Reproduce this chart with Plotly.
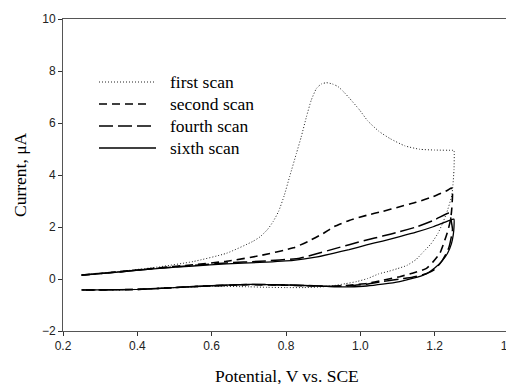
import plotly.graph_objects as go

# ---- data ----
scan1_fwd_E = [0.25, 0.30, 0.37, 0.46, 0.55, 0.64, 0.71, 0.73, 0.75, 0.765, 0.78, 0.795, 0.81, 0.828,
               0.841, 0.855, 0.868, 0.882, 0.895, 0.909, 0.925, 0.94, 0.955, 0.971, 0.998, 1.02, 1.05,
               1.08, 1.12, 1.16, 1.20, 1.25]
scan1_fwd_I = [0.15, 0.22, 0.32, 0.47, 0.67, 0.99, 1.44, 1.62, 1.90, 2.20, 2.60, 3.20, 3.95, 4.83,
               5.47, 6.24, 6.88, 7.33, 7.50, 7.55, 7.50, 7.40, 7.20, 6.95, 6.50, 6.08, 5.68,
               5.40, 5.12, 4.99, 4.96, 4.95]
scan1_rev_E = [1.252, 1.252, 1.249, 1.246, 1.232, 1.22, 1.209, 1.19, 1.17, 1.15, 1.125, 1.10, 1.075,
               1.05, 1.02, 0.99, 0.96, 0.93, 0.90, 0.85, 0.80, 0.75, 0.70, 0.60, 0.50, 0.40, 0.30, 0.25]
scan1_rev_I = [4.95, 4.2, 3.6, 3.2, 2.53, 2.1, 1.76, 1.35, 1.05, 0.75, 0.52, 0.40, 0.29,
               0.2, 0.02, -0.1, -0.18, -0.25, -0.3, -0.33, -0.33, -0.32, -0.3, -0.28, -0.33, -0.4, -0.42, -0.42]

scan2_fwd_E = [0.25, 0.35, 0.46, 0.55, 0.64, 0.73, 0.82, 0.86, 0.90, 0.93, 0.97, 1.017, 1.06, 1.106,
               1.15, 1.196, 1.236, 1.245]
scan2_fwd_I = [0.15, 0.28, 0.43, 0.55, 0.68, 0.90, 1.20, 1.45, 1.75, 2.02, 2.25, 2.45, 2.60, 2.78,
               2.95, 3.17, 3.42, 3.50]
scan2_rev_E = [1.248, 1.246, 1.243, 1.236, 1.225, 1.214, 1.195, 1.178, 1.14, 1.106, 1.06, 1.017, 0.97,
               0.93, 0.90, 0.85, 0.80, 0.70, 0.60, 0.50, 0.40, 0.30, 0.25]
scan2_rev_I = [3.3, 2.7, 2.3, 1.88, 1.4, 0.99, 0.65, 0.41, 0.22, 0.09, -0.05, -0.17, -0.24,
               -0.28, -0.28, -0.26, -0.24, -0.22, -0.26, -0.33, -0.40, -0.42, -0.42]

scan4_fwd_E = [0.25, 0.35, 0.46, 0.55, 0.64, 0.73, 0.837, 0.88, 0.927, 0.97, 1.017, 1.06, 1.106, 1.15,
               1.196, 1.236]
scan4_fwd_I = [0.15, 0.27, 0.42, 0.52, 0.62, 0.68, 0.80, 0.96, 1.15, 1.32, 1.50, 1.65, 1.82, 2.0,
               2.25, 2.53]
scan4_rev_E = [1.24, 1.245, 1.248, 1.245, 1.238, 1.228, 1.215, 1.196, 1.17, 1.14, 1.106, 1.06, 1.017,
               0.97, 0.93, 0.90, 0.85, 0.80, 0.70, 0.60, 0.50, 0.40, 0.30, 0.25]
scan4_rev_I = [2.53, 2.2, 1.9, 1.63, 1.2, 0.9, 0.6, 0.33, 0.17, 0.07, 0.0, -0.1, -0.2,
               -0.26, -0.28, -0.27, -0.25, -0.23, -0.21, -0.26, -0.33, -0.40, -0.42, -0.42]

scan6_fwd_E = [0.25, 0.35, 0.46, 0.55, 0.64, 0.73, 0.82, 0.88, 0.927, 0.97, 1.017, 1.06, 1.106, 1.15,
               1.196, 1.23, 1.25]
scan6_fwd_I = [0.15, 0.27, 0.41, 0.50, 0.58, 0.64, 0.72, 0.84, 0.99, 1.13, 1.31, 1.46, 1.63, 1.80,
               2.01, 2.2, 2.3]
scan6_rev_E = [1.252, 1.252, 1.25, 1.245, 1.235, 1.22, 1.2, 1.178, 1.14, 1.106, 1.06, 1.017, 0.97,
               0.93, 0.90, 0.85, 0.80, 0.70, 0.60, 0.50, 0.40, 0.30, 0.25]
scan6_rev_I = [2.3, 2.0, 1.7, 1.35, 1.0, 0.7, 0.42, 0.2, 0.02, -0.1, -0.2, -0.27, -0.3,
               -0.3, -0.28, -0.25, -0.23, -0.21, -0.26, -0.33, -0.40, -0.42, -0.42]

series_names = ["first scan", "second scan", "fourth scan", "sixth scan"]
x_ticks = [0.2, 0.4, 0.6, 0.8, 1.0, 1.2, 1.4]
x_tick_labels = ["0.2", "0.4", "0.6", "0.8", "1.0", "1.2", "1.4"]
y_ticks = [-2, 0, 2, 4, 6, 8, 10]
x_title = "Potential, V vs. SCE"
y_title = "Current, \u03bcA"

# ---- styles ----
styles = [
    dict(color="#222222", width=1.0, dash="1px,2px"),
    dict(color="black", width=1.6, dash="8px,5px"),
    dict(color="black", width=1.5, dash="14px,5px"),
    dict(color="black", width=1.3, dash="solid"),
]

scans = [
    (scan1_fwd_E + scan1_rev_E, scan1_fwd_I + scan1_rev_I),
    (scan2_fwd_E + scan2_rev_E, scan2_fwd_I + scan2_rev_I),
    (scan4_fwd_E + scan4_rev_E, scan4_fwd_I + scan4_rev_I),
    (scan6_fwd_E + scan6_rev_E, scan6_fwd_I + scan6_rev_I),
]

fig = go.Figure()
for name, (xs, ys), st in zip(series_names, scans, styles):
    fig.add_trace(go.Scatter(x=xs, y=ys, mode="lines", name=name, showlegend=False,
                             line=dict(color=st["color"], width=st["width"], dash=st["dash"],
                                       shape="spline", smoothing=0.5)))

# The page body has an 8px default margin, so lay out everything 8px up/left.
OFF = 8
W, H = 514, 384
plot_left, plot_right, plot_top, plot_bottom = 63, 509, 19, 331   # target window pixels
ml = plot_left - OFF
mt = plot_top - OFF
mr = W - (plot_right - OFF)
mb = H - (plot_bottom - OFF)
pw, ph = plot_right - plot_left, plot_bottom - plot_top

def px_to_paper_x(px):
    return (px - plot_left) / pw

def px_to_paper_y(py):
    return 1 - (py - plot_top) / ph

serif = "Liberation Serif"
title_size = 17.5

# manual legend (line samples + labels)
legend_rows = [82, 104, 126, 148]
legend_ends = [154, 148, 156, 156]
shapes = []
annotations = []
for name, st, ry, xe in zip(series_names, styles, legend_rows, legend_ends):
    shapes.append(dict(type="line", xref="paper", yref="paper",
                       x0=px_to_paper_x(99), x1=px_to_paper_x(xe),
                       y0=px_to_paper_y(ry), y1=px_to_paper_y(ry),
                       line=dict(color=st["color"], width=st["width"], dash=st["dash"])))
    annotations.append(dict(xref="paper", yref="paper", x=px_to_paper_x(168), y=px_to_paper_y(ry),
                            text=name, showarrow=False, xanchor="left", yanchor="middle",
                            font=dict(family=serif, size=title_size, color="black")))

# axis titles
annotations.append(dict(xref="paper", yref="paper", x=px_to_paper_x(287), y=px_to_paper_y(375.5),
                        text=x_title, showarrow=False, xanchor="center", yanchor="middle",
                        font=dict(family=serif, size=title_size, color="black")))
annotations.append(dict(xref="paper", yref="paper", x=px_to_paper_x(20), y=px_to_paper_y(175),
                        text=y_title, showarrow=False, xanchor="center", yanchor="middle",
                        textangle=-90,
                        font=dict(family=serif, size=title_size, color="black")))

axis_common = dict(ticks="outside", ticklen=4, tickwidth=1, tickcolor="#333333",
                   showline=True, linecolor="#555555", linewidth=1, mirror=True,
                   showgrid=False, zeroline=False, automargin=False,
                   tickfont=dict(family="Liberation Sans", size=12, color="#222222"))

fig.update_layout(
    width=W, height=H,
    margin=dict(l=ml, r=mr, t=mt, b=mb),
    paper_bgcolor="white", plot_bgcolor="white",
    shapes=shapes, annotations=annotations,
    xaxis=dict(range=[0.2, 1.4], tickvals=x_ticks, ticktext=x_tick_labels,
               ticklabeloverflow="allow", **axis_common),
    yaxis=dict(range=[-2, 10], tickvals=y_ticks, ticklabeloverflow="allow", **axis_common),
)

fig.write_html("out.html")
